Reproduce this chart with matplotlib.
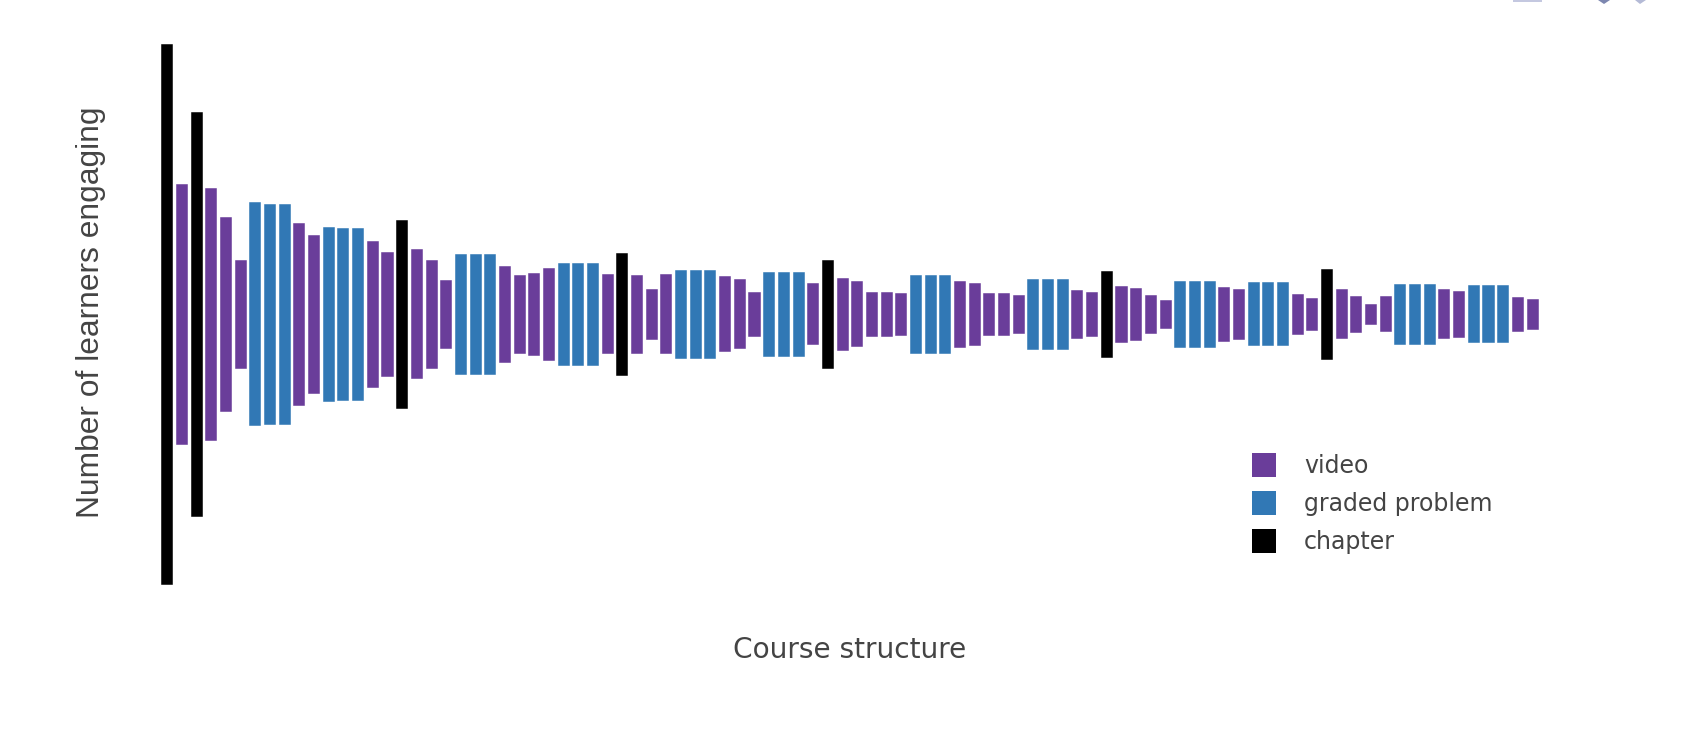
#!/usr/bin/python3

import matplotlib
matplotlib.use('Agg')
import matplotlib.pyplot as plt
from matplotlib.colors import to_rgba
from matplotlib.patches import Polygon, Rectangle

# bar heights along the course, centred on zero (v = video, p = graded problem, c = chapter)
kinds = list('cvcvvvpppvvpppvvcvvvpppvvvvpppvcvvvpppvvvpppvcvvvvvpppvvvvvpppvvcvvvvpppvvpppvvcvvvvpppvvpppvv')
learners = [
    1620, 779, 1213, 758, 580, 323, 669, 662, 660, 546,
    474, 521, 518, 516, 438, 371, 564, 387, 322, 204,
    362, 360, 359, 290, 233, 244, 274, 307, 307, 306,
    237, 368, 234, 152, 237, 266, 266, 265, 225, 207,
    134, 250, 250, 250, 183, 322, 214, 195, 133, 130,
    126, 232, 232, 232, 198, 184, 128, 124, 116, 212,
    212, 212, 146, 130, 260, 168, 158, 114, 84, 196,
    196, 196, 162, 148, 189, 189, 189, 118, 98, 272,
    147, 109, 62, 105, 179, 179, 179, 147, 137, 171,
    171, 171, 104, 90,
]
names = {'v': 'video', 'p': 'graded problem', 'c': 'chapter'}
colors = {'v': '#6a3d9a', 'p': '#3178b5', 'c': '#000000'}

W, H = 1702, 732
fig = plt.figure(figsize=(W / 100, H / 100), dpi=100)
ax = fig.add_axes([150 / W, (H - 614) / H, 1400 / W, 600 / H])

for kind in 'vpc':
    xs = [i for i, k in enumerate(kinds) if k == kind]
    hs = [learners[i] for i in xs]
    # pale rim round each bar, like the antialiased edges in the original
    ax.bar(xs, hs, width=0.75, bottom=[-h / 2 for h in hs], color=colors[kind],
           edgecolor=to_rgba(colors[kind], 0.55), linewidth=0.72, label=names[kind])

ax.set_xlim((150 - 166.8) / 14.68, (1550 - 166.8) / 14.68)
ax.set_ylim(-900, 900)
ax.set_xticks([])
ax.set_yticks([])
for s in ax.spines.values():
    s.set_visible(False)

ax.set_xlabel('Course structure', fontsize=20.2, color='#444444', va='center', family='DejaVu Sans')
ax.xaxis.set_label_coords(0.5, -0.06)
ax.set_ylabel('Number of learners engaging', fontsize=22.9, color='#444444', va='center', family='Liberation Sans')
ax.yaxis.set_label_coords(-0.042, 0.5025)

leg = ax.legend(loc='lower left', bbox_to_anchor=((1252 - 150) / 1400, (614 - 554) / 600), frameon=False,
                fontsize=17, handlelength=1.02, handleheight=1.19, handletextpad=1.19,
                labelspacing=0.56, borderpad=0, borderaxespad=0, labelcolor='#444444')
for h in leg.legend_handles:
    h.set_linewidth(0)

# bits of the toolbar cut off at the top edge of the screenshot
def px(x, y):
    return x / W, 1 - y / H

fig.add_artist(Rectangle(px(1513, 1.5), 29 / W, 1.5 / H, transform=fig.transFigure, color='#c4c8e0', lw=0))
fig.add_artist(Polygon([px(1598, 0), px(1610, 0), px(1604, 4)], transform=fig.transFigure, color='#7d87b0', lw=0))
fig.add_artist(Polygon([px(1635, 0), px(1646, 0), px(1640, 4)], transform=fig.transFigure, color='#b4bad6', lw=0))

fig.savefig('out.png', dpi=100)
